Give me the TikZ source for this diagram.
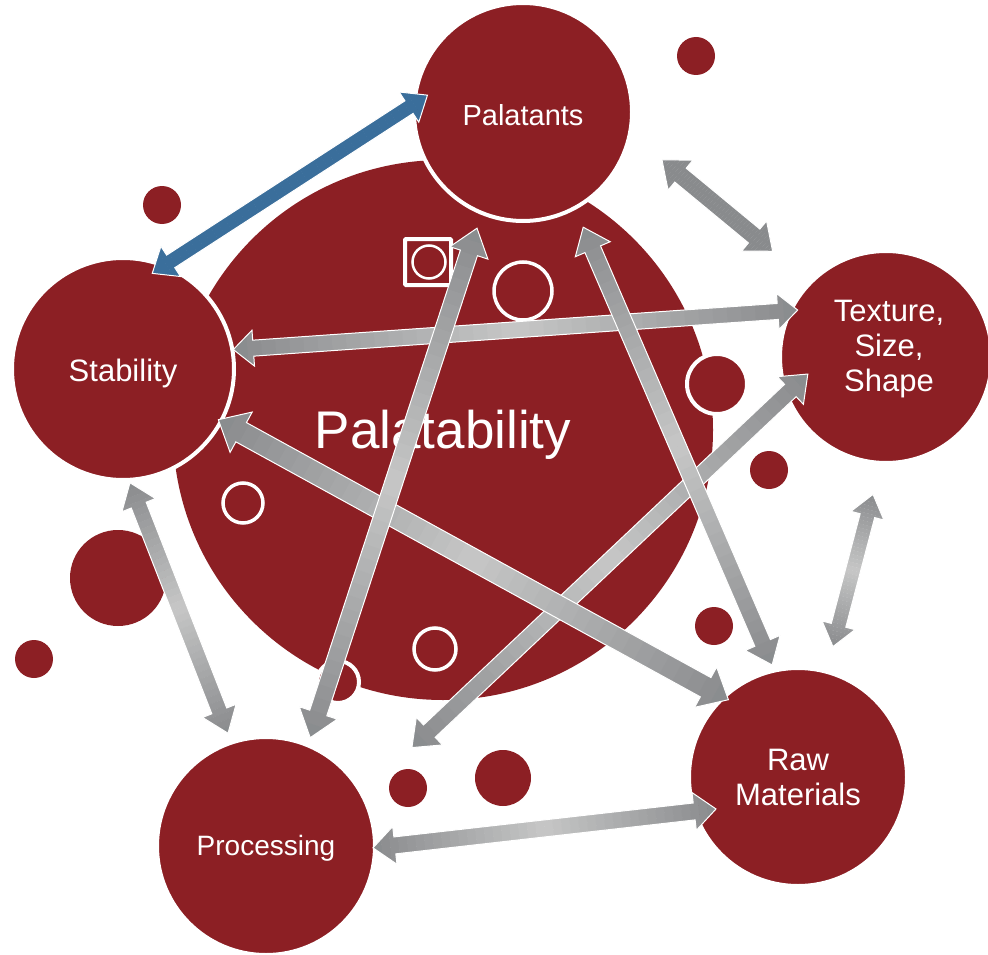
\documentclass[tikz,border=0pt]{standalone}
\usepackage{fontspec}
\setmainfont{Liberation Sans}
\usetikzlibrary{calc}

\definecolor{wine}{RGB}{140,31,36}
\definecolor{steel}{RGB}{58,110,155}
\definecolor{greyend}{RGB}{137,139,141}
\definecolor{greymid}{RGB}{198,198,198}

% Double-headed block arrow between two points, shaded along its axis.
% #1,#2 end points; #3 shaft half width; #4 head half width; #5 head length;
% #6 colour at the ends; #7 colour in the middle
\newcommand\blockarrow[7]{%
  \coordinate (ba) at #1;
  \coordinate (bb) at #2;
  \coordinate (h1) at ($(ba)!#5pt!(bb)$);
  \coordinate (h2) at ($(bb)!#5pt!(ba)$);
  \def\arrowoutline{(ba) -- ($(h1)!#4pt!90:(bb)$) -- ($(h1)!#3pt!90:(bb)$)
    -- ($(h2)!#3pt!-90:(ba)$) -- ($(h2)!#4pt!-90:(ba)$) -- (bb)
    -- ($(h2)!#4pt!90:(ba)$) -- ($(h2)!#3pt!90:(ba)$)
    -- ($(h1)!#3pt!-90:(bb)$) -- ($(h1)!#4pt!-90:(bb)$) -- cycle}%
  \begin{scope}
    \clip \arrowoutline;
    \foreach \k in {0,...,39}{%
      \pgfmathsetmacro\mixv{100*(1-abs((2*\k+1)/40-1))}%
      \coordinate (s0) at ($(ba)!{\k/40}!(bb)$);
      \coordinate (s1) at ($(ba)!{(\k+1.05)/40}!(bb)$);
      \fill[#7!\mixv!#6] ($(s0)!#4pt+3pt!90:(bb)$) -- ($(s1)!#4pt+3pt!-90:(ba)$)
        -- ($(s1)!#4pt+3pt!90:(ba)$) -- ($(s0)!#4pt+3pt!-90:(bb)$) -- cycle;
    }
  \end{scope}
  \draw[white, line width=1pt, line join=miter] \arrowoutline;
}

\begin{document}
\begin{tikzpicture}[x=1pt, y=-1pt,
  bubble/.style={circle, fill=wine, draw=white, line width=4pt, inner sep=0pt,
    minimum size=#1},
  dot/.style={circle, fill=wine, inner sep=0pt, minimum size=#1},
  ring/.style={circle, draw=white, line width=3.5pt, inner sep=0pt, minimum size=#1},
  bigfont/.style={font=\fontsize{31}{35}\selectfont},
  caption/.style={text=white, align=center, inner sep=0pt},
]
\useasboundingbox (0,0) rectangle (988,955);

% central disc and its title
\node[dot=540] (core) at (443,430) {};
\node[caption, font=\fontsize{53}{60}\selectfont] (title) at (443,435) {Palatability};

% scattered dots
\node[dot=38] (d1) at (696,56) {};
\node[dot=38] (d2) at (162,205) {};
\node[dot=38] (d3) at (34,659) {};
\node[dot=38] (d4) at (769,470) {};
\node[dot=38] (d5) at (714,626) {};
\node[dot=38] (d6) at (408,788) {};
\node[dot=56] (d7) at (503,778) {};
\node[dot=96] (d8) at (118,578) {};
\node[dot=60, draw=white, line width=4pt] (o1) at (717,384) {};
\node[dot=42, draw=white, line width=4pt] (o2) at (338,682) {};

% hollow rings and the framed ring
\node[ring=58] (r1) at (523,291) {};
\node[ring=40] (r2) at (243,503) {};
\node[ring=42] (r3) at (435,649) {};
\node[ring=33, line width=2.5pt] (r4) at (429,262) {};
\node[draw=white, line width=4pt, minimum size=46, inner sep=0pt, rounded corners=1pt] (sq) at (428,262) {};

% the five factors
\node[bubble=218] (P) at (523,112) {};
\node[caption, font=\fontsize{29}{35}\selectfont] (Pt) at (523,115) {Palatants};
\node[bubble=222] (S) at (123,369) {};
\node[caption, bigfont] (St) at (123,373) {Stability};
\node[bubble=212] (T) at (886,357) {};
\node[caption, bigfont] (Tt) at (889,349) {Texture,\\Size,\\Shape};
\node[bubble=218] (R) at (798,777) {};
\node[caption, bigfont] (Rt) at (798,777) {Raw\\Materials};
\node[bubble=218] (Q) at (266,846) {};
\node[caption, font=\fontsize{28}{35}\selectfont] (Qt) at (266,848) {Processing};

% connections
\blockarrow{($(S.center)+(10:112pt)$)}{($(T.center)+(152:100pt)$)}{8}{18}{20}{greyend}{greymid}
\blockarrow{($(S.center)+(73:100pt)$)}{($(P.center)+(170:97pt)$)}{7.5}{18}{22}{steel}{steel}
\blockarrow{($(P.center)+(-19:147pt)$)}{($(T.center)+(137:155pt)$)}{9}{19.5}{24}{greyend}{greyend}
\blockarrow{($(S.center)+(-86.5:114pt)$)}{($(Q.center)+(108.6:119pt)$)}{8}{18}{24}{greyend}{greymid}
\blockarrow{($(T.center)+(-95.4:138pt)$)}{($(R.center)+(75:135pt)$)}{7.5}{17}{22}{greyend}{greymid}
\blockarrow{($(Q.center)+(-1:107pt)$)}{($(R.center)+(-158.7:88pt)$)}{8.5}{19}{22}{greyend}{greymid}
\blockarrow{($(T.center)+(-167.7:80pt)$)}{($(Q.center)+(34:176pt)$)}{8.5}{19}{24}{greyend}{greymid}
\blockarrow{($(P.center)+(-62.4:130pt)$)}{($(R.center)+(103:115pt)$)}{8.5}{19}{24}{greyend}{greymid}
\blockarrow{($(S.center)+(-28:108pt)$)}{($(R.center)+(132:104pt)$)}{11}{23}{26}{greyend}{greymid}
\blockarrow{($(P.center)+(-111.6:125pt)$)}{($(Q.center)+(67.8:117pt)$)}{9}{20}{26}{greyend}{greymid}
\end{tikzpicture}
\end{document}
